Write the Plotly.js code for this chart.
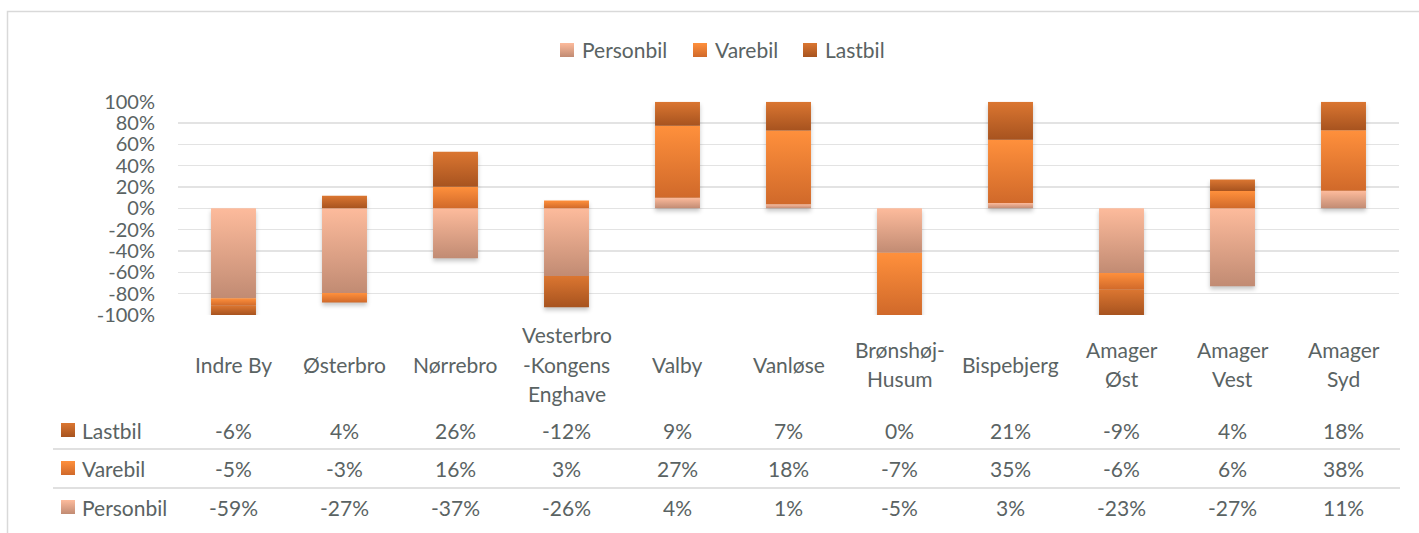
<!DOCTYPE html>
<html><head><meta charset="utf-8">
<script src="https://cdn.plot.ly/plotly-3.0.1.min.js"></script>
<style>html,body{margin:0;padding:0;background:#fff}</style>
</head><body>
<svg width="0" height="0" style="position:absolute">
<defs>
<linearGradient id="gP" x1="0" y1="0" x2="0" y2="1"><stop offset="0" stop-color="#FDBB9C"/><stop offset="1" stop-color="#C18B73"/></linearGradient>
<linearGradient id="gV" x1="0" y1="0" x2="0" y2="1"><stop offset="0" stop-color="#FF903C"/><stop offset="1" stop-color="#D0692A"/></linearGradient>
<linearGradient id="gL" x1="0" y1="0" x2="0" y2="1"><stop offset="0" stop-color="#DB7631"/><stop offset="1" stop-color="#A7531F"/></linearGradient>
</defs></svg>
<div id="chart" style="width:1419px;height:533px"></div>
<script>
// ---- data ----
const categories = ['Indre By','Østerbro','Nørrebro','Vesterbro\n-Kongens\nEnghave','Valby','Vanløse','Brønshøj-\nHusum','Bispebjerg','Amager\nØst','Amager\nVest','Amager\nSyd'];
const seriesNames = ['Personbil','Varebil','Lastbil'];
const personbil = [-59,-27,-37,-26,4,1,-5,3,-23,-27,11];
const varebil   = [-5,-3,16,3,27,18,-7,35,-6,6,38];
const lastbil   = [-6,4,26,-12,9,7,0,21,-9,4,18];
const yTickVals = [-100,-80,-60,-40,-20,0,20,40,60,80,100];

// ---- style ----
const W = 1419, H = 533;
const FONT = 'Lato, "Open Sans", sans-serif';
const TXT = '#5a6363';
const baseColors = {Personbil:'rgb(230, 160, 130)', Varebil:'rgb(240, 128, 48)', Lastbil:'rgb(196, 100, 38)'};
const gradMap = {'rgb(230, 160, 130)':'url(#gP)','rgb(240, 128, 48)':'url(#gV)','rgb(196, 100, 38)':'url(#gL)'};
const xp = px => px / W;
const yp = py => 1 - py / H;

const raw = {Personbil: personbil, Varebil: varebil, Lastbil: lastbil};
const totals = categories.map((c,i) => Math.abs(personbil[i]) + Math.abs(varebil[i]) + Math.abs(lastbil[i]));

const traces = seriesNames.map(name => ({
  type:'bar', name: name, x: categories,
  y: raw[name].map((v,i) => totals[i] ? v / totals[i] * 100 : 0),
  marker:{color: baseColors[name], line:{width:0}},
  hoverinfo:'skip', showlegend:false
}));

const shapes = [];
const annotations = [];

// outer border
shapes.push({type:'rect', xref:'paper', yref:'paper', x0:xp(7.5), x1:xp(1440), y0:yp(11.5), y1:yp(560), line:{color:'#d9d9d9', width:1.5}, fillcolor:'rgba(0,0,0,0)'});

// top legend
const legendItems = [{name:'Personbil', x:560},{name:'Varebil', x:693},{name:'Lastbil', x:803}];
legendItems.forEach(it => {
  shapes.push({type:'rect', xref:'paper', yref:'paper', x0:xp(it.x), x1:xp(it.x+14), y0:yp(57), y1:yp(43), line:{width:0}, fillcolor:baseColors[it.name]});
  annotations.push({xref:'paper', yref:'paper', x:xp(it.x+20), y:yp(49), xanchor:'left', yanchor:'middle', text:it.name, showarrow:false, font:{family:FONT, size:21, color:TXT}});
});

// category labels (vertically centred, like the original)
const lineSpacing = 29.5, labelCenter = 364;
categories.forEach(c => {
  const lines = c.split('\n');
  lines.forEach((ln, k) => {
    const py = labelCenter + (k - (lines.length - 1) / 2) * lineSpacing;
    annotations.push({xref:'x', yref:'paper', x:c, y:yp(py), xanchor:'center', yanchor:'middle', text:ln, showarrow:false, font:{family:FONT, size:21, color:TXT}});
  });
});

// data table
const rows = [{name:'Lastbil', y:430}, {name:'Varebil', y:468}, {name:'Personbil', y:507}];
rows.forEach(r => {
  shapes.push({type:'rect', xref:'paper', yref:'paper', x0:xp(61), x1:xp(75), y0:yp(r.y+7), y1:yp(r.y-7), line:{width:0}, fillcolor:baseColors[r.name]});
  annotations.push({xref:'paper', yref:'paper', x:xp(80), y:yp(r.y), xanchor:'left', yanchor:'middle', text:r.name, showarrow:false, font:{family:FONT, size:21, color:TXT}});
  raw[r.name].forEach((v,i) => {
    annotations.push({xref:'x', yref:'paper', x:categories[i], y:yp(r.y), xanchor:'center', yanchor:'middle', text:v + '%', showarrow:false, font:{family:FONT, size:21, color:TXT}});
  });
});
[449, 488].forEach(py => shapes.push({type:'line', xref:'paper', yref:'paper', x0:xp(53), x1:xp(1400), y0:yp(py), y1:yp(py), line:{color:'#e0e0e0', width:2}}));

const layout = {
  width:W, height:H, margin:{l:0, r:0, t:0, b:0},
  paper_bgcolor:'#fff', plot_bgcolor:'rgba(0,0,0,0)',
  barmode:'relative', bargap:0.595,
  font:{family:FONT, color:TXT},
  xaxis:{domain:[xp(178), xp(1399)], type:'category', showticklabels:false, showgrid:false, zeroline:false, showline:false, ticks:'', fixedrange:true},
  yaxis:{domain:[yp(315), yp(101.7)], range:[-100,100], tickvals:yTickVals, ticktext:yTickVals.map(v=>v+'%'),
         showgrid:true, gridcolor:'#e3e3e3', gridwidth:1.5, zeroline:false, showline:false, ticks:'',
         ticklabelstandoff:22, tickfont:{family:FONT, size:20, color:TXT}, fixedrange:true},
  shapes: shapes, annotations: annotations, showlegend:false
};

function applyGradients(){
  document.querySelectorAll('#chart path').forEach(p => {
    const f = p.style.fill;
    if (gradMap[f]) p.style.fill = gradMap[f];
  });
  const bl = document.querySelector('#chart .barlayer');
  if (bl) bl.style.filter = 'drop-shadow(0px 3px 2px rgba(0,0,0,0.22))';
}
Plotly.newPlot('chart', traces, layout, {displayModeBar:false, staticPlot:true}).then(gd => {
  applyGradients();
  gd.on && gd.on('plotly_afterplot', applyGradients);
});
</script>
</body></html>
